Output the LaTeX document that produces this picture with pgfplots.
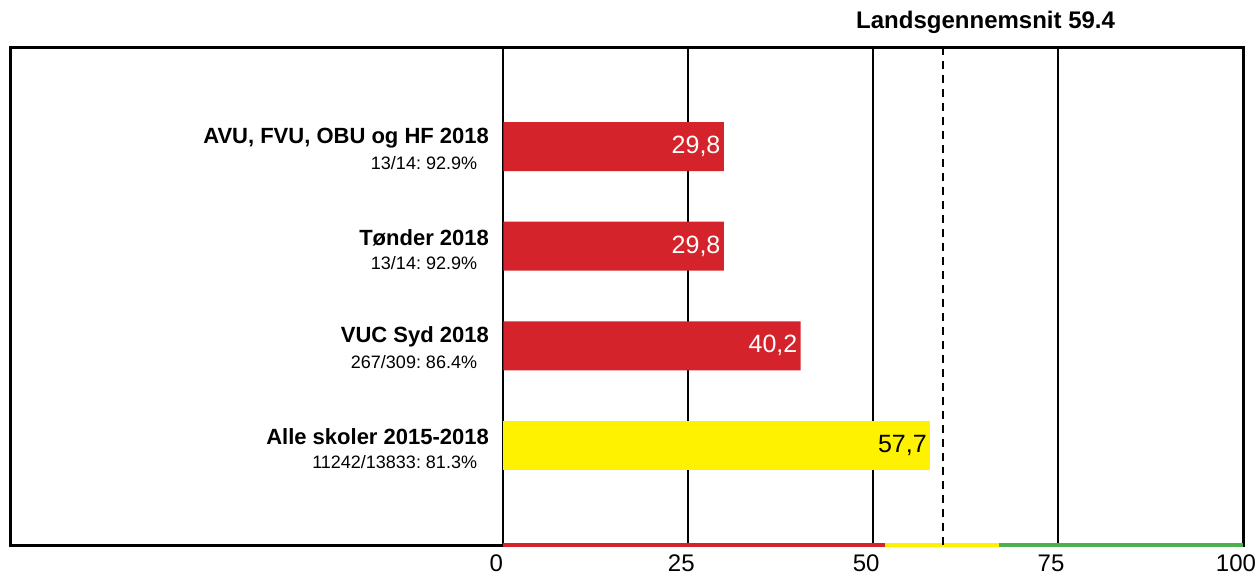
\documentclass[border=0pt]{standalone}
\usepackage{pgfplots}
\pgfplotsset{compat=1.18}
\usepackage{fontspec}
\setmainfont{Liberation Sans}
\definecolor{barred}{RGB}{213,35,43}
\definecolor{baryellow}{RGB}{255,242,0}
\definecolor{bargreen}{RGB}{76,175,80}
\begin{document}
\frenchspacing
\begin{tikzpicture}
\path[use as bounding box] (-5pt,-14.5pt) rectangle (622.5pt,272.5pt);
\begin{axis}[
  at={(0,0)}, anchor=south west,
  scale only axis, width=616.5pt, height=249pt,
  xmin=-66.7, xmax=100, ymin=0, ymax=5,
  xtick={0,25,50,75,100}, ytick=\empty,
  xmajorgrids, major grid style={black, line width=1pt},
  major tick length=0pt,
  axis line style={black, line width=1.5pt},
  ticklabel style={font=\fontsize{12}{14}\selectfont},
  xticklabel style={xshift=-3.5pt, yshift=-1.5pt},
  /pgf/number format/assume math mode=true,
  /pgf/number format/.cd, use comma, fixed, fixed zerofill, precision=1,
  /pgfplots/.cd,
  xticklabel={\pgfmathprintnumber[fixed, precision=0]{\tick}},
  clip=false,
]
\addplot[xbar, bar width=24.5pt, fill=barred, draw=none, bar shift=0pt,
  nodes near coords, nodes near coords style={anchor=east, inner xsep=1.5pt, font=\fontsize{12.5}{14}\selectfont, text=white}]
  coordinates {(29.8,4) (29.8,3) (40.2,2)};
\addplot[xbar, bar width=24.5pt, fill=baryellow, draw=none, bar shift=0pt,
  nodes near coords, nodes near coords style={anchor=east, inner xsep=1.5pt, font=\fontsize{12.5}{14}\selectfont, text=black}]
  coordinates {(57.7,1)};
\addplot[barred, line width=2pt, no marks] coordinates {(0,0) (51.6,0)};
\addplot[baryellow, line width=2pt, no marks] coordinates {(51.6,0) (67,0)};
\addplot[bargreen, line width=2pt, no marks] coordinates {(67,0) (100,0)};
\addplot[black, line width=1pt, dash pattern=on 4pt off 3pt, no marks] coordinates {(59.4,0) (59.4,5)};
\node[anchor=east, font=\bfseries\fontsize{11}{13}\selectfont, inner sep=0pt] at (axis cs:-1.9,4.086) {AVU, FVU, OBU og HF 2018};
\node[anchor=east, font=\fontsize{9}{11}\selectfont, inner sep=0pt] at (axis cs:-3.5,3.833) {13/14: 92.9\%};
\node[anchor=east, font=\bfseries\fontsize{11}{13}\selectfont, inner sep=0pt] at (axis cs:-1.9,3.086) {Tønder 2018};
\node[anchor=east, font=\fontsize{9}{11}\selectfont, inner sep=0pt] at (axis cs:-3.5,2.833) {13/14: 92.9\%};
\node[anchor=east, font=\bfseries\fontsize{11}{13}\selectfont, inner sep=0pt] at (axis cs:-1.9,2.086) {VUC Syd 2018};
\node[anchor=east, font=\fontsize{9}{11}\selectfont, inner sep=0pt] at (axis cs:-3.5,1.833) {267/309: 86.4\%};
\node[anchor=east, font=\bfseries\fontsize{11}{13}\selectfont, inner sep=0pt] at (axis cs:-1.9,1.086) {Alle skoler 2015-2018};
\node[anchor=east, font=\fontsize{9}{11}\selectfont, inner sep=0pt] at (axis cs:-3.5,0.833) {11242/13833: 81.3\%};
\node[font=\bfseries\fontsize{12}{14}\selectfont] at (axis cs:65.2,5) [yshift=12.5pt] {Landsgennemsnit 59.4};
\end{axis}
\end{tikzpicture}
\end{document}
